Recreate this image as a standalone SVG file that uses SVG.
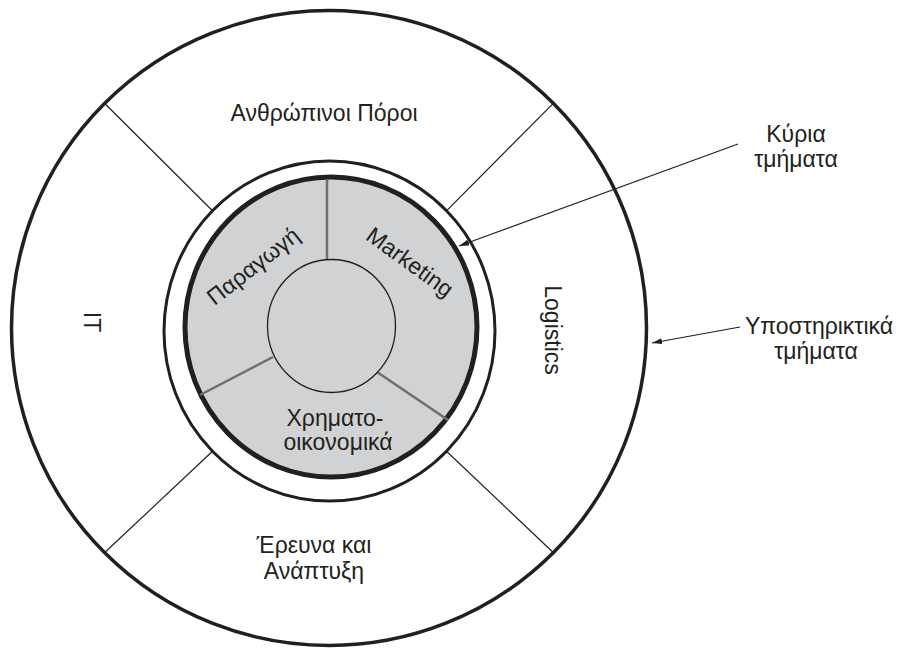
<svg xmlns="http://www.w3.org/2000/svg" width="899" height="648" viewBox="0 0 899 648">
  <defs>
    <style>
      .lbl { font-family: "Liberation Sans", Arial, sans-serif; font-size: 23px; fill: #231f20; text-anchor: middle; }
      .thin { stroke: #231f20; stroke-width: 1.2; fill: none; }
      .div { stroke: #6d6e70; stroke-width: 2.5; fill: none; }
      .ptr { stroke: #231f20; stroke-width: 1.2; fill: none; marker-end: url(#arr); }
    </style>
    <marker id="arr" viewBox="0 0 10 6" refX="10" refY="3" markerWidth="10" markerHeight="6" markerUnits="userSpaceOnUse" orient="auto">
      <path d="M0,0 L10,3 L0,6 Z" fill="#231f20"/>
    </marker>
  </defs>
  <rect width="899" height="648" fill="#ffffff"/>

  <g id="outer-ring">
    <circle cx="329" cy="328" r="317.5" fill="#ffffff" stroke="#231f20" stroke-width="3.5"/>
  </g>

  <g id="connectors">
    <line class="thin" x1="104.5" y1="103.2" x2="212.5" y2="210.8"/>
    <line class="thin" x1="553.5" y1="103.2" x2="446.5" y2="210.8"/>
    <line class="thin" x1="104.5" y1="552.8" x2="212.5" y2="451.2"/>
    <line class="thin" x1="553.5" y1="552.8" x2="446.5" y2="451.2"/>
  </g>

  <g id="middle-ring">
    <ellipse cx="329.5" cy="331" rx="165.5" ry="170" fill="#ffffff" stroke="#231f20" stroke-width="3"/>
  </g>

  <g id="core">
    <ellipse cx="331" cy="327" rx="146" ry="150" fill="#d1d2d4" stroke="#231f20" stroke-width="5"/>
    <line class="div" x1="327" y1="179" x2="327" y2="261"/>
    <line class="div" x1="200" y1="395" x2="273" y2="357"/>
    <line class="div" x1="377" y1="372" x2="448" y2="420"/>
    <ellipse cx="331.5" cy="326" rx="64" ry="66.5" fill="#d1d2d4" stroke="#231f20" stroke-width="1.3"/>
  </g>

  <g id="node-hr">
    <text class="lbl" x="324" y="121">Ανθρώπινοι Πόροι</text>
  </g>
  <g id="node-it">
    <text class="lbl" transform="translate(84,322) rotate(90)">IT</text>
  </g>
  <g id="node-logistics">
    <text class="lbl" transform="translate(545,330) rotate(90)">Logistics</text>
  </g>
  <g id="node-rd">
    <text class="lbl" x="314" y="553">Έρευνα και</text>
    <text class="lbl" x="314" y="579">Ανάπτυξη</text>
  </g>
  <g id="node-production">
    <text class="lbl" font-size="25" transform="translate(253,266) rotate(-38)" y="8">Παραγωγή</text>
  </g>
  <g id="node-marketing">
    <text class="lbl" font-size="25" transform="translate(410,262) rotate(36)" y="8">Marketing</text>
  </g>
  <g id="node-finance">
    <text class="lbl" x="335" y="426">Χρηματο-</text>
    <text class="lbl" x="338" y="450">οικονομικά</text>
  </g>

  <g id="callouts">
    <line class="ptr" x1="738" y1="144" x2="459" y2="246"/>
    <line class="ptr" x1="740" y1="327" x2="652" y2="343"/>
  </g>
  <g id="label-main">
    <text class="lbl" x="796" y="142">Κύρια</text>
    <text class="lbl" x="796" y="167">τμήματα</text>
  </g>
  <g id="label-support">
    <text class="lbl" x="819" y="334">Υποστηρικτικά</text>
    <text class="lbl" x="816" y="359">τμήματα</text>
  </g>
</svg>
